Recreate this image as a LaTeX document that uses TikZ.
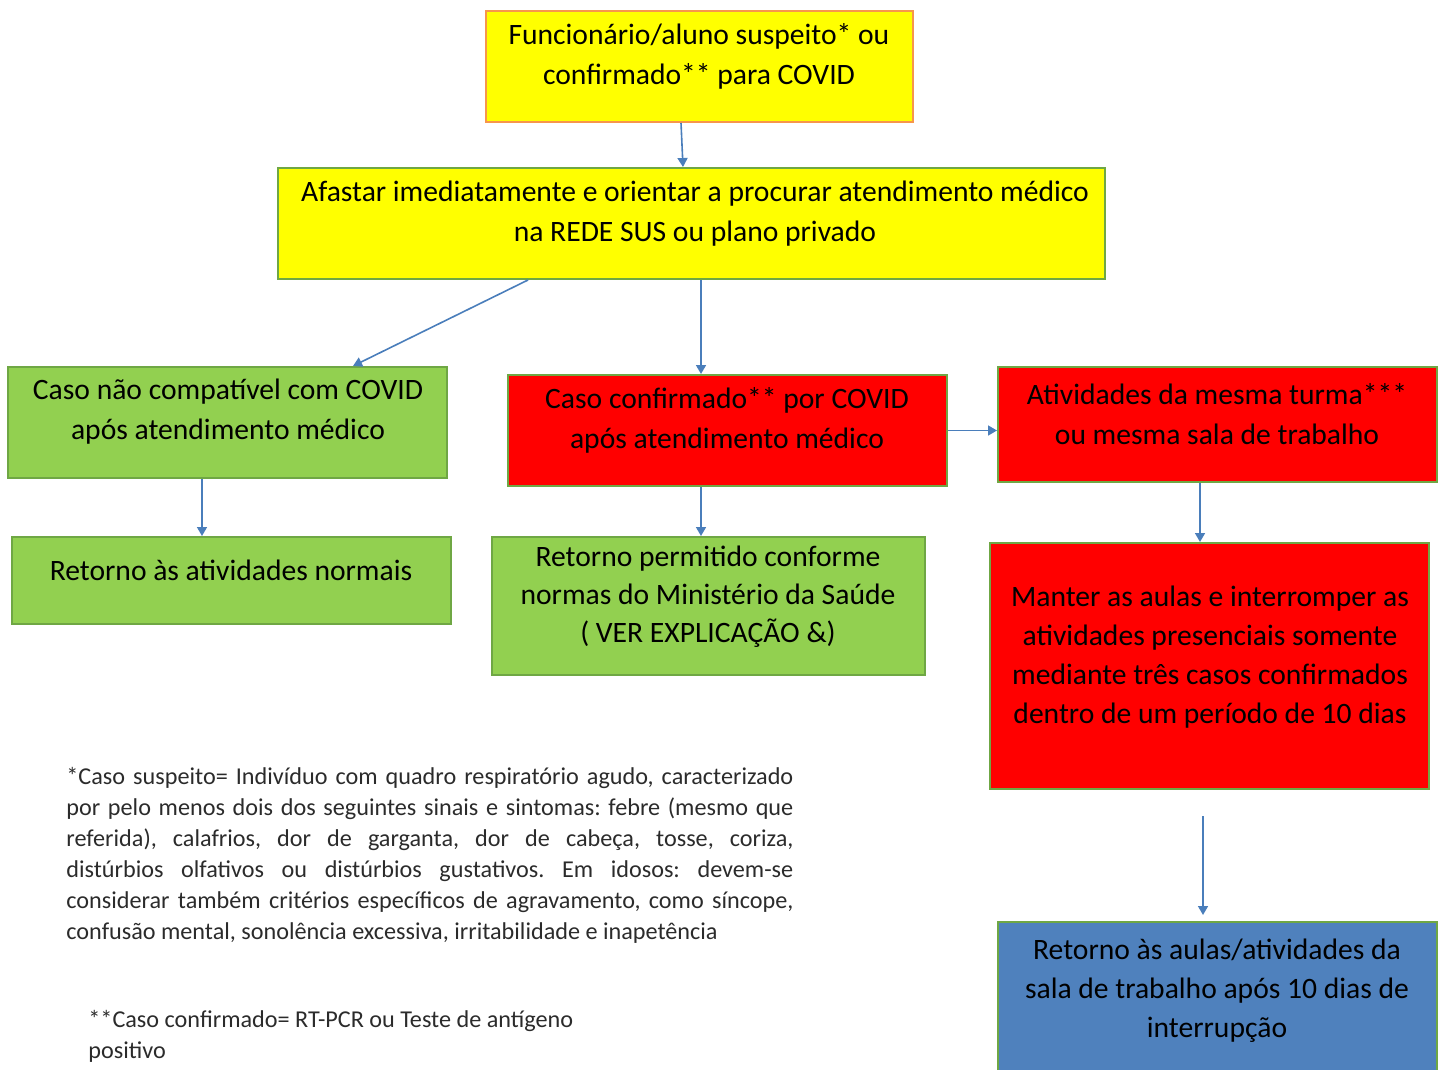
\documentclass[tikz,border=0pt]{standalone}
\usepackage{fontspec}
\setmainfont{Carlito}
\usetikzlibrary{arrows.meta}
\definecolor{ylw}{HTML}{FFFF00}
\definecolor{grn}{HTML}{92D050}
\definecolor{rd}{HTML}{FF0000}
\definecolor{blu}{HTML}{4F81BD}
\definecolor{bgrn}{HTML}{6FA744}
\definecolor{bora}{HTML}{F7964B}
\definecolor{arrc}{HTML}{4A7EBB}
\definecolor{fn}{HTML}{2B2B2B}
\frenchspacing
\tikzset{
  box/.style={draw=bgrn, line width=1pt, inner sep=0pt},
  txt/.style={align=center, inner sep=0pt, font=\fontsize{14.8}{20}\selectfont},
  note/.style={align=left, inner sep=0pt, text=fn, font=\fontsize{12.1}{15.5}\selectfont},
  arr/.style={draw=arrc, line width=0.8pt, -{Triangle[width=5pt,length=4.5pt]}}
}
\begin{document}
\begin{tikzpicture}[x=0.5pt,y=-0.5pt]
\useasboundingbox (0,0) rectangle (1440,1070);
% boxes
\node[box, draw=bora, fill=ylw, minimum width=213.5pt, minimum height=55.5pt] (n1) at (699.5,66.5) {};
\node[box, fill=ylw, minimum width=413.5pt, minimum height=55.5pt] (n2) at (691.5,223.5) {};
\node[box, fill=grn, minimum width=219.5pt, minimum height=55.5pt] (n3) at (227.5,422.5) {};
\node[box, fill=rd, minimum width=219.5pt, minimum height=55.5pt] (n4) at (727.5,430.5) {};
\node[box, fill=rd, minimum width=219.5pt, minimum height=57.5pt] (n5) at (1217.5,424.5) {};
\node[box, fill=grn, minimum width=219.5pt, minimum height=43.5pt] (n6) at (231.5,580.5) {};
\node[box, fill=grn, minimum width=216.5pt, minimum height=69pt] (n7) at (708.5,606) {};
\node[box, fill=rd, minimum width=219.5pt, minimum height=123pt] (n8) at (1209.5,666) {};
\node[box, fill=blu, minimum width=219.5pt, minimum height=76pt] (n9) at (1217.5,998) {};
% texts
\node[txt] (t1) at (699,56) {Funcionário/aluno suspeito* ou\\confirmado** para COVID};
\node[txt] (t2) at (695,214) {Afastar imediatamente e orientar a procurar atendimento médico\\na REDE SUS ou plano privado};
\node[txt] (t3) at (228,412) {Caso não compatível com COVID\\após atendimento médico};
\node[txt] (t4) at (727,420) {Caso confirmado** por COVID\\após atendimento médico};
\node[txt] (t5) at (1217,414) {Atividades da mesma turma***\\ou mesma sala de trabalho};
\node[txt, font=\fontsize{14.8}{19}\selectfont] (t7) at (708,597) {Retorno permitido conforme\\normas do Ministério da Saúde\\( VER EXPLICAÇÃO \&)};
\node[txt] (t6) at (231,570) {Retorno às atividades normais};
\node[txt, font=\fontsize{14.8}{19.5}\selectfont] (t8) at (1210,657) {Manter as aulas e interromper as\\atividades presenciais somente\\mediante três casos confirmados\\dentro de um período de 10 dias};
\node[txt, font=\fontsize{14.8}{19.5}\selectfont] (t9) at (1217,991) {Retorno às aulas/atividades da\\sala de trabalho após 10 dias de\\interrupção};
% footnotes
\node[note, anchor=north west] (f1) at (66,767) {%
\makebox[363.5pt][s]{*Caso suspeito= Indivíduo com quadro respiratório agudo, caracterizado}\\
\makebox[363.5pt][s]{por pelo menos dois dos seguintes sinais e sintomas: febre (mesmo que}\\
\makebox[363.5pt][s]{referida), calafrios, dor de garganta, dor de cabeça, tosse, coriza,}\\
\makebox[363.5pt][s]{distúrbios olfativos ou distúrbios gustativos. Em idosos: devem-se}\\
\makebox[363.5pt][s]{considerar também critérios específicos de agravamento, como síncope,}\\
confusão mental, sonolência excessiva, irritabilidade e inapetência};
\node[note, anchor=north west] (f2) at (88,1010) {**Caso confirmado= RT-PCR ou Teste de antígeno\\positivo};
% connectors
\draw[arr] ([xshift=-9.25pt]n1.south) -- ([xshift=-4.25pt]n2.north);
\draw[arr] ([xshift=-81.75pt]n2.south) -- ([xshift=62.75pt]n3.north);
\draw[arr] ([xshift=4.75pt]n2.south) -- ([xshift=4.75pt]n2.south |- n4.north);
\draw[arr] (n4.east) -- (n4.east -| n5.west);
\draw[arr] ([xshift=-12.75pt]n3.south) -- ([xshift=-12.75pt]n3.south |- n6.north);
\draw[arr] ([xshift=-13.25pt]n4.south) -- ([xshift=-13.25pt]n4.south |- n7.north);
\draw[arr] ([xshift=-8.75pt]n5.south) -- ([xshift=-8.75pt]n5.south |- n8.north);
\coordinate (c1) at (1203,816);
\draw[arr, shorten >=3pt] (c1) -- (c1 |- n9.north);
\end{tikzpicture}
\end{document}
